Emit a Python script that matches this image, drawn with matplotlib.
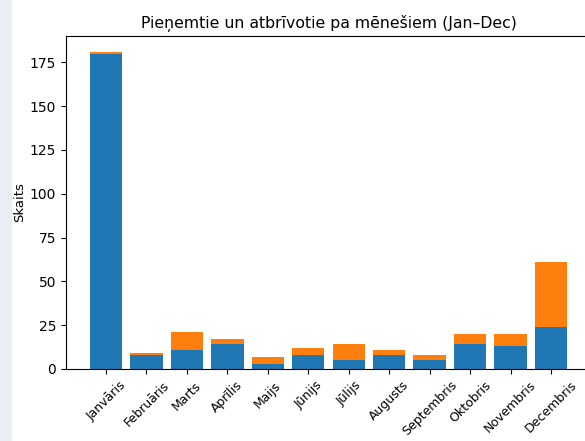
import numpy as np
import matplotlib
matplotlib.use("Agg")
import matplotlib.pyplot as plt
from matplotlib.patches import Rectangle

# Data
months = ["Janvāris", "Februāris", "Marts", "Aprīlis", "Maijs", "Jūnijs",
          "Jūlijs", "Augusts", "Septembris", "Oktobris", "Novembris", "Decembris"]
hired = [180, 8, 11, 14, 3, 8, 5, 8, 5, 14, 13, 24]
released = [1, 1, 10, 3, 4, 4, 9, 3, 3, 6, 7, 37]

fig = plt.figure(figsize=(5.85, 4.41), dpi=100)

# light strip on the left edge, like the screenshot
fig.patches.append(Rectangle((0, 0), 11 / 585, 1, transform=fig.transFigure,
                             color="#e9eef4", zorder=-10))

ax = fig.add_axes([66 / 585, 1 - 369 / 441, 525 / 585, 333 / 441])

x = np.arange(len(months))
ax.bar(x, hired, color="tab:blue")
ax.bar(x, released, bottom=hired, color="tab:orange")

ax.set_xticks(x)
ax.set_xticklabels(months, rotation=45, fontsize=9)
ax.tick_params(axis="y", labelsize=10)
ax.set_ylabel("Skaits", fontsize=9.5)
ax.yaxis.set_label_coords(-40 / 525, 0.5)
ax.set_title("Pieņemtie un atbrīvotie pa mēnešiem (Jan–Dec)", fontsize=11.3)

fig.savefig("out.png", dpi=100)
